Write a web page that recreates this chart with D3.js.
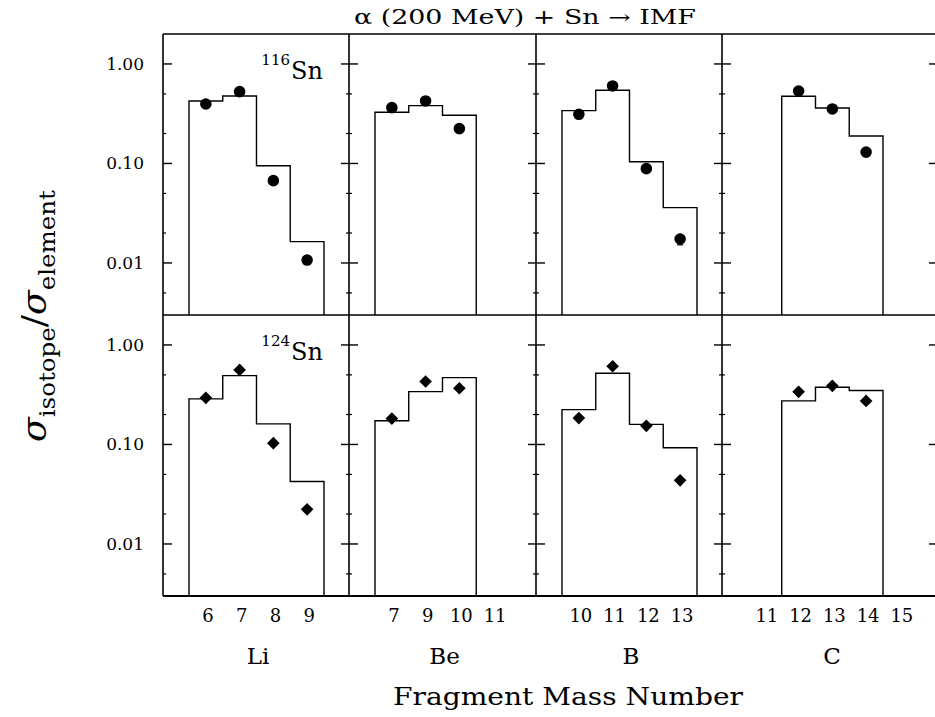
<!DOCTYPE html>
<html>
<head>
<meta charset="utf-8">
<script src="https://cdn.jsdelivr.net/npm/d3@7/dist/d3.min.js"></script>
<style>
  html, body { margin: 0; padding: 0; background: #fff; }
  svg { display: block; }
  .lbl { font-family: "DejaVu Serif", serif; fill: #000; }
</style>
</head>
<body>
<div id="chart"></div>
<script>
// fragment elements and the mass numbers written under each panel
const elements = ["Li", "Be", "B", "C"];
const massLabels = [
  ["6", "7", "8", "9"],
  ["7", "9", "10", "11"],
  ["10", "11", "12", "13"],
  ["11", "12", "13", "14", "15"]
];
// index of the first histogram bin in each panel
const firstBin = [0, 0, 0, 1];

// 116Sn target: calculation (histogram) and data (circles)
const calc116 = [
  [0.425, 0.477, 0.095, 0.0164],
  [0.327, 0.381, 0.305],
  [0.340, 0.544, 0.104, 0.036],
  [0.473, 0.361, 0.189]
];
const data116 = [
  [0.396, 0.527, 0.0672, 0.0107],
  [0.364, 0.425, 0.224],
  [0.312, 0.601, 0.0887, 0.0174],
  [0.535, 0.353, 0.130]
];
// 124Sn target: calculation (histogram) and data (diamonds)
const calc124 = [
  [0.287, 0.492, 0.161, 0.0425],
  [0.173, 0.340, 0.470],
  [0.224, 0.520, 0.159, 0.0926],
  [0.274, 0.376, 0.348]
];
const data124 = [
  [0.294, 0.561, 0.103, 0.0223],
  [0.182, 0.429, 0.367],
  [0.184, 0.611, 0.154, 0.0436],
  [0.338, 0.388, 0.274]
];
// the one visible error bar (116Sn, 13B)
const errBars116 = [{ panel: 2, bin: 3, lo: 0.0152, hi: 0.0198 }];

const yMajor = [1, 0.1, 0.01];
const yMajorLabels = ["1.00", "0.10", "0.01"];
const yMinor = [0.5, 0.2, 0.05, 0.02, 0.005];

const width = 935, height = 717;
const panelX = [163, 349, 536, 722];
const panelW = [186, 187, 186, 216];
const rowTop = [34, 315];
const rowH = 281;
const unit = 33.75;
const xStart = -1.27;

const svg = d3.select("#chart").append("svg")
  .attr("width", width)
  .attr("height", height);

const rows = [
  { top: rowTop[0], calc: calc116, data: data116, marker: "circle", iso: "116", errs: errBars116 },
  { top: rowTop[1], calc: calc124, data: data124, marker: "diamond", iso: "124", errs: [] }
];

rows.forEach((row, r) => {
  const y = d3.scaleLog().domain([0.003, 2]).range([row.top + rowH, row.top]);

  elements.forEach((el, p) => {
    const x0 = panelX[p], w = panelW[p];
    const x = d3.scaleLinear()
      .domain([xStart, xStart + w / unit])
      .range([x0, x0 + w]);
    const g = svg.append("g");

    // histogram
    const vals = row.calc[p];
    const pts = [[x(firstBin[p] - 0.5), y.range()[0]]];
    vals.forEach((v, i) => {
      const c = firstBin[p] + i;
      pts.push([x(c - 0.5), y(v)]);
      pts.push([x(c + 0.5), y(v)]);
    });
    pts.push([x(firstBin[p] + vals.length - 0.5), y.range()[0]]);
    g.append("path")
      .attr("d", d3.line()(pts))
      .attr("fill", "none")
      .attr("stroke", "#000")
      .attr("stroke-width", 1.4);

    // error bars
    row.errs.filter(e => e.panel === p).forEach(e => {
      const cx = x(firstBin[p] + e.bin);
      g.append("line")
        .attr("x1", cx).attr("x2", cx)
        .attr("y1", y(e.lo)).attr("y2", y(e.hi))
        .attr("stroke", "#000").attr("stroke-width", 1.4);
      g.append("line")
        .attr("x1", cx - 3).attr("x2", cx + 3)
        .attr("y1", y(e.lo)).attr("y2", y(e.lo))
        .attr("stroke", "#000").attr("stroke-width", 1.2);
    });

    // data markers
    const isCircle = row.marker === "circle";
    const sym = isCircle
      ? d3.symbol().type(d3.symbolCircle).size(105)
      : d3.symbol().type(d3.symbolSquare).size(80);
    g.selectAll("path.pt")
      .data(row.data[p])
      .enter()
      .append("path")
      .attr("class", "pt")
      .attr("d", sym)
      .attr("transform", (d, i) => "translate(" + x(firstBin[p] + i) + "," + y(d) + ")" + (isCircle ? "" : " rotate(45)"))
      .attr("fill", "#000");

    // y ticks on the left side of every panel
    const tickSide = (xx, dirIn, both) => {
      yMajor.forEach(t => {
        g.append("line")
          .attr("x1", both ? xx - 8 : xx).attr("x2", xx + dirIn * 9)
          .attr("y1", y(t)).attr("y2", y(t))
          .attr("stroke", "#000").attr("stroke-width", 1.4);
      });
      yMinor.forEach(t => {
        g.append("line")
          .attr("x1", both ? xx - 3 : xx).attr("x2", xx + dirIn * 3)
          .attr("y1", y(t)).attr("y2", y(t))
          .attr("stroke", "#000").attr("stroke-width", 1.2);
      });
    };
    tickSide(x0, 1, p > 0);
    if (p === elements.length - 1) tickSide(x0 + w, -1, false);
  });

  // y tick labels on the left
  yMajor.forEach((t, i) => {
    svg.append("text")
      .attr("class", "lbl")
      .attr("x", 144)
      .attr("y", y(t))
      .attr("dy", "0.35em")
      .attr("text-anchor", "end")
      .attr("font-size", 17)
      .text(yMajorLabels[i]);
  });

  // target label
  svg.append("text")
    .attr("class", "lbl")
    .attr("x", 290)
    .attr("y", row.top + 31)
    .attr("text-anchor", "end")
    .attr("font-size", 15)
    .text(row.iso);
  svg.append("text")
    .attr("class", "lbl")
    .attr("x", 291)
    .attr("y", row.top + 45)
    .attr("font-size", 24)
    .text("Sn");
});

// frame lines
const frame = svg.append("g")
  .attr("stroke", "#000")
  .attr("fill", "none");
const right = panelX[3] + panelW[3];
frame.append("line").attr("x1", panelX[0]).attr("x2", right)
  .attr("y1", rowTop[0]).attr("y2", rowTop[0]).attr("stroke-width", 1.6);
frame.append("line").attr("x1", panelX[0]).attr("x2", right)
  .attr("y1", rowTop[1]).attr("y2", rowTop[1]).attr("stroke-width", 1.6);
frame.append("line").attr("x1", panelX[0]).attr("x2", right)
  .attr("y1", rowTop[1] + rowH).attr("y2", rowTop[1] + rowH).attr("stroke-width", 2);
panelX.concat([right]).forEach(px => {
  frame.append("line").attr("x1", px).attr("x2", px)
    .attr("y1", rowTop[0]).attr("y2", rowTop[1] + rowH).attr("stroke-width", 1.6);
});

// mass number labels and element names
elements.forEach((el, p) => {
  const x0 = panelX[p], w = panelW[p];
  const x = d3.scaleLinear()
    .domain([xStart, xStart + w / unit])
    .range([x0, x0 + w]);
  massLabels[p].forEach((m, i) => {
    svg.append("text")
      .attr("class", "lbl")
      .attr("x", x(i) + 2)
      .attr("y", 622)
      .attr("text-anchor", "middle")
      .attr("font-size", 18)
      .text(m);
  });
  svg.append("text")
    .attr("class", "lbl")
    .attr("x", x0 + w / 2 + 2)
    .attr("y", 664)
    .attr("text-anchor", "middle")
    .attr("font-size", 23)
    .text(el);
});

// x title
svg.append("text")
  .attr("class", "lbl")
  .attr("x", 393)
  .attr("y", 705)
  .attr("font-size", 25)
  .attr("textLength", 350)
  .attr("lengthAdjust", "spacingAndGlyphs")
  .text("Fragment Mass Number");

// chart title
svg.append("text")
  .attr("class", "lbl")
  .attr("x", 354)
  .attr("y", 24)
  .attr("font-size", 20)
  .attr("textLength", 342)
  .attr("lengthAdjust", "spacingAndGlyphs")
  .text("α (200 MeV) + Sn → IMF");

// y title
const yt = svg.append("text")
  .attr("class", "lbl")
  .attr("transform", "translate(46,442) rotate(-90)")
  .attr("font-size", 34)
  .attr("textLength", 252)
  .attr("lengthAdjust", "spacingAndGlyphs");
yt.append("tspan").attr("font-style", "italic").text("σ");
yt.append("tspan").attr("font-size", 23).attr("dy", 9).text("isotope");
yt.append("tspan").attr("dy", -9).text("/");
yt.append("tspan").attr("font-style", "italic").text("σ");
yt.append("tspan").attr("font-size", 23).attr("dy", 9).text("element");
</script>
</body>
</html>
